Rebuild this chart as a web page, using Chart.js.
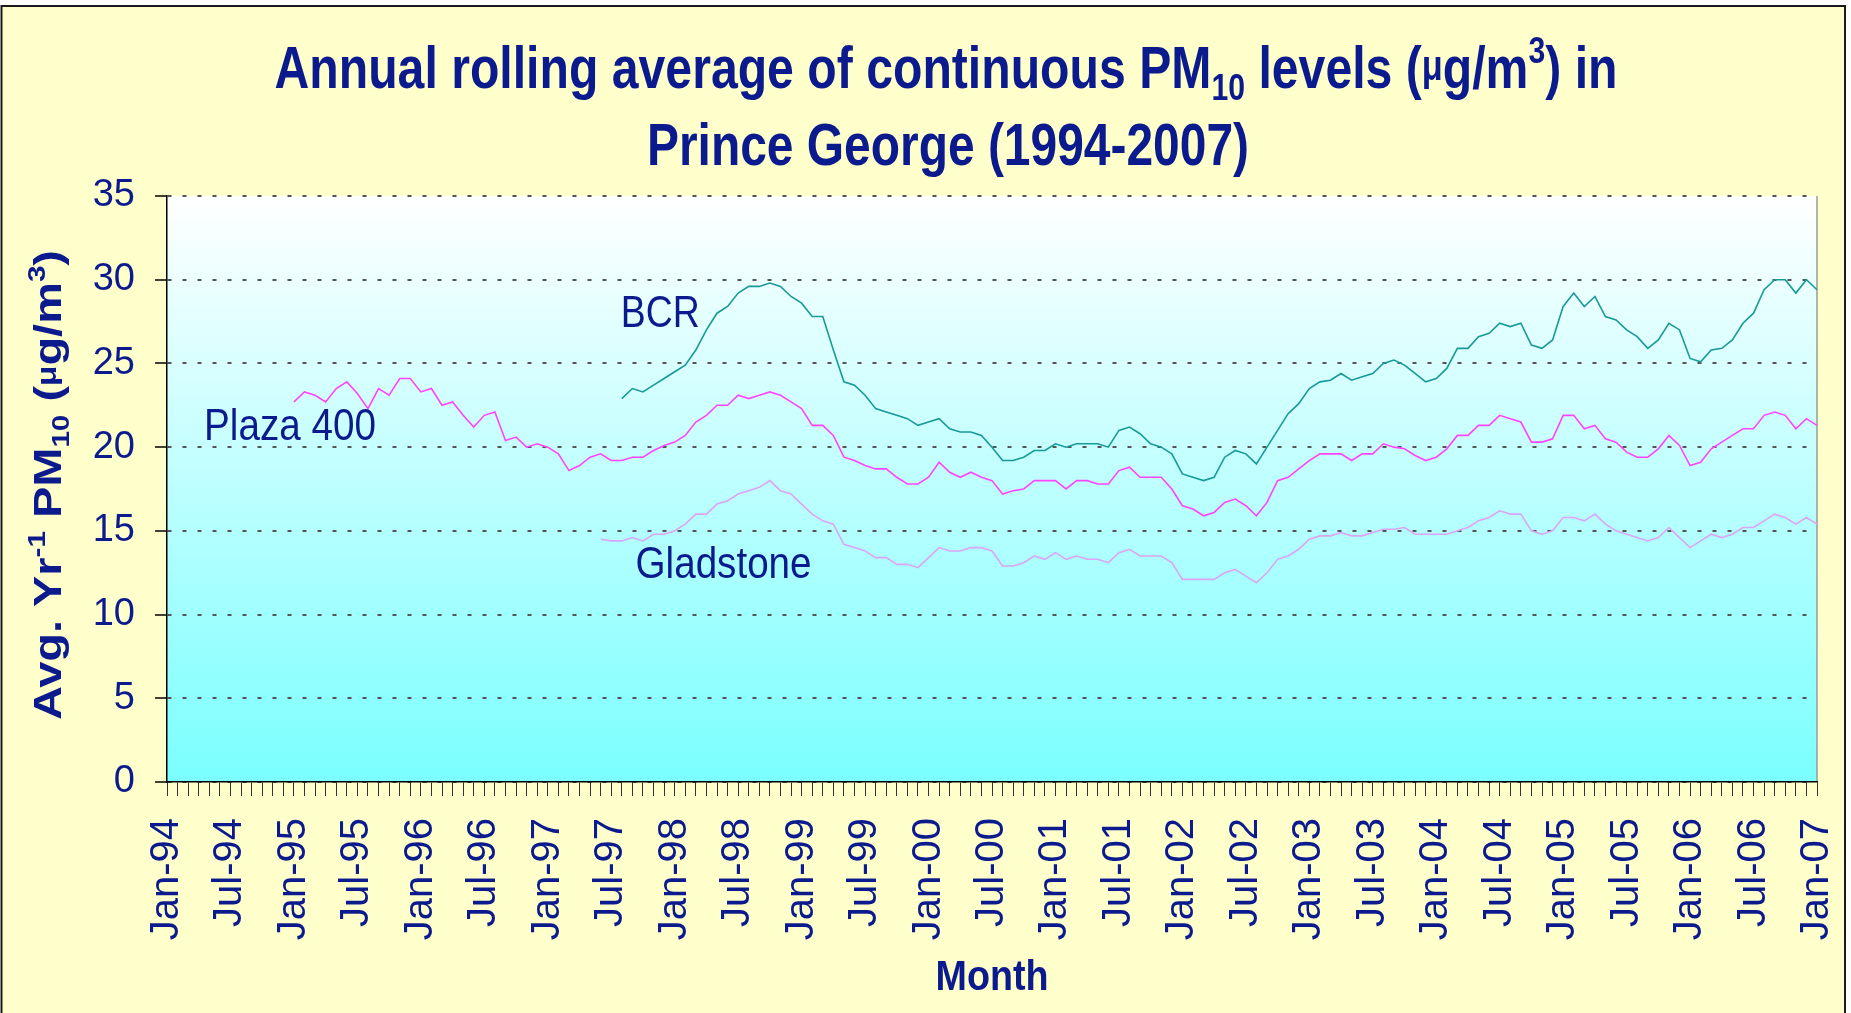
<!DOCTYPE html>
<html>
<head>
<meta charset="utf-8">
<title>PM10 Prince George</title>
<script src="https://cdn.jsdelivr.net/npm/chart.js@4.4.0/dist/chart.umd.min.js"></script>
<style>
    html, body { margin: 0; padding: 0; background: #ffffff; }
    canvas { display: block; }
</style>
</head>
<body>
<canvas id="grafico" width="1851" height="1013"></canvas>
<script>
// meses: Jan-94 ... Jan-07
const MONTHS = ['Jan', 'Feb', 'Mar', 'Apr', 'May', 'Jun', 'Jul', 'Aug', 'Sep', 'Oct', 'Nov', 'Dec'];
const months = [];
for (let y = 1994; y <= 2007; y++) {
    for (let m = 0; m < 12; m++) {
        if (y < 2007 || m === 0) months.push(MONTHS[m] + '-' + String(y).slice(2));
    }
}
const tickEvery = 6;
const yTicks = [0, 5, 10, 15, 20, 25, 30, 35];

// series (annual rolling average, ug/m3) - each starts at its own month index
const plazaStart = 12;
const plaza400 = [
    22.7, 23.3, 23.1, 22.7, 23.5, 23.9, 23.2, 22.3, 23.5, 23.1, 24.1, 24.1, 23.3, 23.5, 22.5, 22.7, 21.9, 21.2, 21.9, 22.1,
    20.4, 20.6, 20.0, 20.2, 20.0, 19.6, 18.6, 18.9, 19.4,
    19.6, 19.2, 19.2, 19.4, 19.4, 19.8, 20.1, 20.3, 20.7, 21.5, 21.9, 22.5, 22.5, 23.1, 22.9, 23.1, 23.3, 23.1, 22.7, 22.3,
    21.3, 21.3, 20.7, 19.4, 19.2, 18.9, 18.7, 18.7, 18.2, 17.8, 17.8, 18.2, 19.1, 18.5, 18.2, 18.5, 18.2, 18.0,
    17.2, 17.4, 17.5, 18.0, 18.0, 18.0, 17.5, 18.0, 18.0, 17.8, 17.8, 18.6, 18.8, 18.2, 18.2, 18.2, 17.5, 16.5, 16.3, 15.9,
    16.1, 16.7, 16.9, 16.5, 15.9, 16.7, 18.0, 18.2, 18.7, 19.2, 19.6, 19.6, 19.6, 19.2, 19.6, 19.6, 20.2, 20.0,
    19.9, 19.5, 19.2, 19.4, 19.9, 20.7, 20.7, 21.3, 21.3, 21.9, 21.7, 21.5, 20.3, 20.3, 20.5, 21.9, 21.9, 21.1, 21.3, 20.5,
    20.3, 19.7, 19.4, 19.4, 19.9, 20.7, 20.1, 18.9, 19.1, 19.9, 20.3, 20.7, 21.1, 21.1, 21.9, 22.1, 21.9, 21.1, 21.7, 21.3
];

const bcrStart = 43;
const bcr = [
    22.9, 23.5, 23.3, 23.7, 24.1, 24.5, 24.9, 25.8, 27.0, 28.0, 28.4, 29.2, 29.6, 29.6, 29.8, 29.6, 29.0, 28.6, 27.8, 27.8,
    25.8, 23.9, 23.7, 23.1, 22.3, 22.1, 21.9, 21.7, 21.3, 21.5, 21.7, 21.1, 20.9, 20.9, 20.7, 20.0,
    19.2, 19.2, 19.4, 19.8, 19.8, 20.2, 20.0, 20.2, 20.2, 20.2, 20.0, 21.0, 21.2, 20.8, 20.2, 20.0, 19.6, 18.4, 18.2, 18.0,
    18.2, 19.4, 19.8, 19.6, 19.0, 20.0, 21.0, 22.0, 22.6, 23.5, 23.9, 24.0, 24.4, 24.0, 24.2, 24.4, 25.0, 25.2,
    24.9, 24.4, 23.9, 24.1, 24.7, 25.9, 25.9, 26.6, 26.8, 27.4, 27.2, 27.4, 26.1, 25.9, 26.4, 28.4, 29.2, 28.4, 29.0, 27.8,
    27.6, 27.0, 26.6, 25.9, 26.4, 27.4, 27.0, 25.3, 25.1, 25.8, 25.9, 26.4, 27.4, 28.0, 29.4, 30.0, 30.0, 29.2, 30.0, 29.4
];

const gladStart = 41;
const gladstone = [
    14.5, 14.4, 14.4, 14.6, 14.4, 14.8, 14.8, 15.0, 15.4, 16.0, 16.0, 16.6, 16.8, 17.2, 17.4, 17.6, 18.0, 17.4, 17.2, 16.6,
    16.0, 15.6, 15.4, 14.2, 14.0, 13.8, 13.4, 13.4, 13.0, 13.0, 12.8, 13.4, 14.0, 13.8, 13.8, 14.0, 14.0, 13.8,
    12.9, 12.9, 13.1, 13.5, 13.3, 13.7, 13.3, 13.5, 13.3, 13.3, 13.1, 13.7, 13.9, 13.5, 13.5, 13.5, 13.1, 12.1, 12.1, 12.1,
    12.1, 12.5, 12.7, 12.3, 11.9, 12.5, 13.3, 13.5, 13.9, 14.5, 14.7, 14.7, 14.9, 14.7, 14.7, 14.9, 15.1, 15.1,
    15.2, 14.8, 14.8, 14.8, 14.8, 15.0, 15.2, 15.6, 15.8, 16.2, 16.0, 16.0, 15.0, 14.8, 15.0, 15.8, 15.8, 15.6, 16.0, 15.4,
    15.0, 14.8, 14.6, 14.4, 14.6, 15.2, 14.6, 14.0, 14.4, 14.8, 14.6, 14.8, 15.2, 15.2, 15.6, 16.0, 15.8, 15.4, 15.8, 15.4
];

// series name labels placed in data units (month index, value)
const seriesLabels = [
    { text: 'BCR', month: 42.9, value: 27.2, width: 79 },
    { text: 'Plaza 400', month: 3.5, value: 20.4, width: 172 },
    { text: 'Gladstone', month: 44.3, value: 12.2, width: 176 }
];

const NAVY = '#0b1b8e';
const FAM = "'Liberation Sans', Arial, sans-serif";

function pad(arr, start) {
    return new Array(start).fill(null).concat(arr);
}

// texto con sub/superindices, ajustado a un ancho dado
function richText(ctx, parts, x, y, size, weight, width, align, rotate) {
    const fontOf = p => weight + ' ' + Math.round(size * (p.s || 1)) + 'px ' + FAM;
    let total = 0;
    const ws = parts.map(p => {
        ctx.font = fontOf(p);
        const w = ctx.measureText(p.t).width;
        total += w;
        return w;
    });
    const sx = width ? width / total : 1;
    ctx.save();
    ctx.translate(x, y);
    if (rotate) ctx.rotate(-Math.PI / 2);
    ctx.scale(sx, 1);
    ctx.fillStyle = NAVY;
    ctx.textAlign = 'left';
    ctx.textBaseline = 'alphabetic';
    let cx = align === 'center' ? -total / 2 : 0;
    parts.forEach((p, k) => {
        ctx.font = fontOf(p);
        ctx.fillText(p.t, cx, (p.dy || 0) * size);
        cx += ws[k];
    });
    ctx.restore();
}

const SUB = t => ({ t: t, s: 0.62, dy: 0.2 });
const SUP = t => ({ t: t, s: 0.62, dy: -0.42 });
const MU = { t: 'μ', s: 0.72, dy: -0.14 };

const decor = {
    id: 'decor',
    beforeDraw(chart) {
        const ctx = chart.ctx;
        const a = chart.chartArea;
        ctx.save();
        ctx.fillStyle = '#ffffcc';
        ctx.fillRect(2, 6, 1843, 1007);
        ctx.strokeStyle = '#1a1a1a';
        ctx.lineWidth = 2;
        ctx.beginPath();
        ctx.moveTo(1.5, 1013);
        ctx.lineTo(1.5, 6);
        ctx.lineTo(1845, 6);
        ctx.lineTo(1845, 1013);
        ctx.stroke();
        const g = ctx.createLinearGradient(0, a.top, 0, a.bottom);
        g.addColorStop(0, '#ffffff');
        g.addColorStop(1, '#7affff');
        ctx.fillStyle = g;
        ctx.fillRect(a.left, a.top, a.right - a.left, a.bottom - a.top);
        ctx.strokeStyle = '#9a9a9a';
        ctx.lineWidth = 1.5;
        ctx.beginPath();
        ctx.moveTo(a.right, a.top);
        ctx.lineTo(a.right, a.bottom);
        ctx.stroke();
        ctx.restore();
    },
    afterDraw(chart) {
        const ctx = chart.ctx;
        const xs = chart.scales.x;
        const ys = chart.scales.y;

        // titulo
        richText(ctx, [
            { t: 'Annual rolling average of continuous PM' }, SUB('10'),
            { t: ' levels (' }, MU, { t: 'g/m' }, SUP('3'), { t: ') in' }
        ], 946, 88, 59, 'bold', 1343, 'center', false);
        richText(ctx, [{ t: 'Prince George (1994-2007)' }], 948, 165, 59, 'bold', 602, 'center', false);

        // eje y
        richText(ctx, [
            { t: 'Avg. Yr' }, SUP('-1'), { t: ' PM' }, SUB('10'),
            { t: ' (' }, MU, { t: 'g/m' }, SUP('3'), { t: ')' }
        ], 61, 485, 38, 'bold', 470, 'center', true);

        // eje x
        richText(ctx, [{ t: 'Month' }], 992, 990, 42, 'bold', 113, 'center', false);

        // nombres de series
        seriesLabels.forEach(l => {
            richText(ctx, [{ t: l.text }], xs.getPixelForValue(l.month), ys.getPixelForValue(l.value),
                44, 'normal', l.width, 'left', false);
        });
    }
};

const ctx = document.getElementById('grafico').getContext('2d');
new Chart(ctx, {
    type: 'line',
    data: {
        labels: months,
        datasets: [
            {
                label: 'Gladstone',
                data: pad(gladstone, gladStart),
                borderColor: '#dca4f6',
                borderWidth: 1.6,
                pointRadius: 0,
                tension: 0,
                spanGaps: false
            },
            {
                label: 'Plaza 400',
                data: pad(plaza400, plazaStart),
                borderColor: '#ff44ff',
                borderWidth: 1.6,
                pointRadius: 0,
                tension: 0,
                spanGaps: false
            },
            {
                label: 'BCR',
                data: pad(bcr, bcrStart),
                borderColor: '#179a98',
                borderWidth: 1.6,
                pointRadius: 0,
                tension: 0,
                spanGaps: false
            }
        ]
    },
    options: {
        responsive: false,
        animation: false,
        layout: { padding: { left: 0, right: 34, top: 196, bottom: 0 } },
        plugins: {
            legend: { display: false },
            title: { display: false },
            tooltip: { enabled: false }
        },
        scales: {
            x: {
                type: 'category',
                offset: false,
                grid: {
                    drawOnChartArea: false,
                    drawTicks: true,
                    tickLength: 14,
                    tickColor: '#333333',
                    tickWidth: 1
                },
                border: { display: true, color: '#000000', width: 1.5 },
                ticks: {
                    autoSkip: false,
                    minRotation: 90,
                    maxRotation: 90,
                    padding: 22,
                    color: NAVY,
                    font: { family: FAM, size: 40 },
                    callback: (v, i) => (i % tickEvery === 0 ? months[i] : '')
                },
                afterFit: s => {
                    s.height = 231;
                    s.paddingLeft = 0;
                    s.paddingRight = 0;
                }
            },
            y: {
                min: 0,
                max: 35,
                afterBuildTicks: s => { s.ticks = yTicks.map(v => ({ value: v })); },
                grid: {
                    color: '#555555',
                    lineWidth: 2,
                    tickLength: 12,
                    tickColor: '#000000',
                    tickWidth: 1.5,
                    tickBorderDash: []
                },
                border: { display: true, color: '#000000', width: 1.5, dash: [4, 11] },
                ticks: {
                    padding: 20,
                    color: NAVY,
                    font: { family: FAM, size: 38 }
                },
                afterFit: s => { s.width = 167; }
            }
        }
    },
    plugins: [decor]
});
</script>
</body>
</html>
